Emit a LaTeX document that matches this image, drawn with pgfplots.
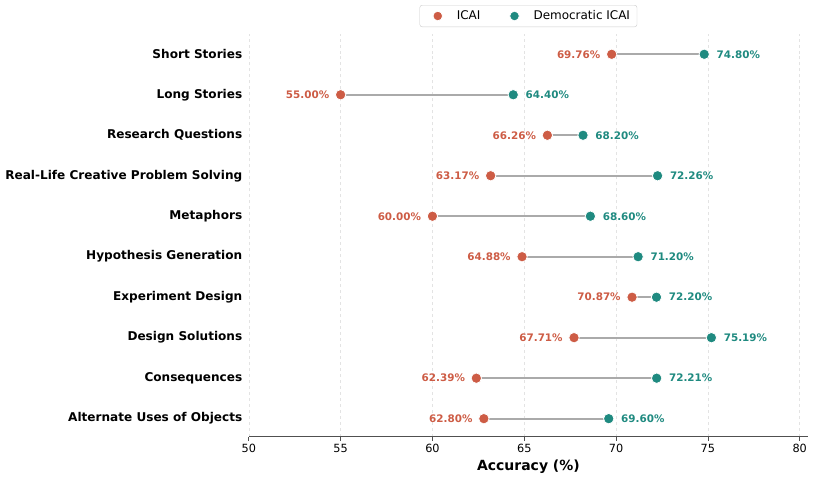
\documentclass[border=0pt]{standalone}
\usepackage{pgfplots}
\pgfplotsset{compat=1.18}
\usepackage{fontspec}
\setmainfont{DejaVu Sans}
\definecolor{icai}{RGB}{205,92,69}
\definecolor{dicai}{RGB}{31,138,128}
\definecolor{conn}{RGB}{170,170,170}
\definecolor{spine}{RGB}{80,80,80}
\begin{document}
\begin{tikzpicture}
\begin{axis}[
  scale only axis,
  width=558bp, height=402bp,
  xmin=50, xmax=80.45, ymin=-0.45, ymax=9.5,
  axis x line*=bottom, axis y line*=left,
  y axis line style={draw=none},
  x axis line style={draw=spine, line width=1bp, -},
  xtick={50,55,...,80},
  xtick style={draw=spine, line width=0.8bp},
  tick align=outside, major tick length=4bp,
  ytick={0,...,9},
  ytick style={draw=none},
  yticklabels={Alternate Uses of Objects,Consequences,Design Solutions,Experiment Design,Hypothesis Generation,Metaphors,Real-Life Creative Problem Solving,Research Questions,Long Stories,Short Stories},
  yticklabel style={font=\bfseries\fontsize{12.1}{14}\selectfont, xshift=1bp},
  xticklabel style={font=\fontsize{11.3}{13}\selectfont},
  /pgf/number format/assume math mode=true,
  xmajorgrids, grid style={dashed, black!11, line width=0.6bp},
  xlabel={\bfseries Accuracy (\%)},
  xlabel style={font=\fontsize{14}{16}\selectfont, yshift=0bp},
  legend style={at={(0.5,1)}, anchor=south, yshift=7bp, draw=black!20, rounded corners=2.5bp,
    font=\fontsize{12}{14}\selectfont, inner xsep=5bp, inner ysep=3.5bp},
  legend columns=2,
  legend cell align=left,
  legend image code/.code={\path[draw=none] (0bp,0bp) -- (26bp,0bp); \draw[mark size=4.8bp] plot coordinates {(13bp,0bp)};},
  /tikz/every odd column/.append style={column sep=4bp},
  /tikz/every even column/.append style={column sep=19bp},
  clip=false,
]
% connectors
\addplot[conn, line width=2.3bp, forget plot] coordinates {(69.76,9) (74.80,9)};
\addplot[conn, line width=2.3bp, forget plot] coordinates {(55.00,8) (64.40,8)};
\addplot[conn, line width=2.3bp, forget plot] coordinates {(66.26,7) (68.20,7)};
\addplot[conn, line width=2.3bp, forget plot] coordinates {(63.17,6) (72.26,6)};
\addplot[conn, line width=2.3bp, forget plot] coordinates {(60.00,5) (68.60,5)};
\addplot[conn, line width=2.3bp, forget plot] coordinates {(64.88,4) (71.20,4)};
\addplot[conn, line width=2.3bp, forget plot] coordinates {(70.87,3) (72.20,3)};
\addplot[conn, line width=2.3bp, forget plot] coordinates {(67.71,2) (75.19,2)};
\addplot[conn, line width=2.3bp, forget plot] coordinates {(62.39,1) (72.21,1)};
\addplot[conn, line width=2.3bp, forget plot] coordinates {(62.80,0) (69.60,0)};
% ICAI
\addplot[only marks, mark=*, mark size=5.2bp, color=icai,
  mark options={fill=icai, draw=white, line width=0.8bp},
  point meta=explicit symbolic,
  nodes near coords={\pgfplotspointmeta\%},
  nodes near coords style={anchor=east, inner sep=0pt, xshift=-11bp, yshift=0bp,
    font=\bfseries\fontsize{10.4}{12}\selectfont, text=icai}]
  table[meta=lab] {
x y lab
69.76 9 69.76
55.00 8 55.00
66.26 7 66.26
63.17 6 63.17
60.00 5 60.00
64.88 4 64.88
70.87 3 70.87
67.71 2 67.71
62.39 1 62.39
62.80 0 62.80
};
\addlegendentry{ICAI}
% Democratic ICAI
\addplot[only marks, mark=*, mark size=5.2bp, color=dicai,
  mark options={fill=dicai, draw=white, line width=0.8bp},
  point meta=explicit symbolic,
  nodes near coords={\pgfplotspointmeta\%},
  nodes near coords style={anchor=west, inner sep=0pt, xshift=12bp, yshift=0bp,
    font=\bfseries\fontsize{10.4}{12}\selectfont, text=dicai}]
  table[meta=lab] {
x y lab
74.80 9 74.80
64.40 8 64.40
68.20 7 68.20
72.26 6 72.26
68.60 5 68.60
71.20 4 71.20
72.20 3 72.20
75.19 2 75.19
72.21 1 72.21
69.60 0 69.60
};
\addlegendentry{Democratic ICAI}
\coordinate (br) at (rel axis cs:1,0);
\end{axis}
\path ([xshift=-2bp,yshift=5bp]current bounding box.north west) coordinate (tl);
\path ([yshift=-4bp]current bounding box.south) coordinate (bb);
\path ([xshift=9bp]br) coordinate (rr);
\path (tl) -- (bb) -- (rr);
\end{tikzpicture}
\end{document}
